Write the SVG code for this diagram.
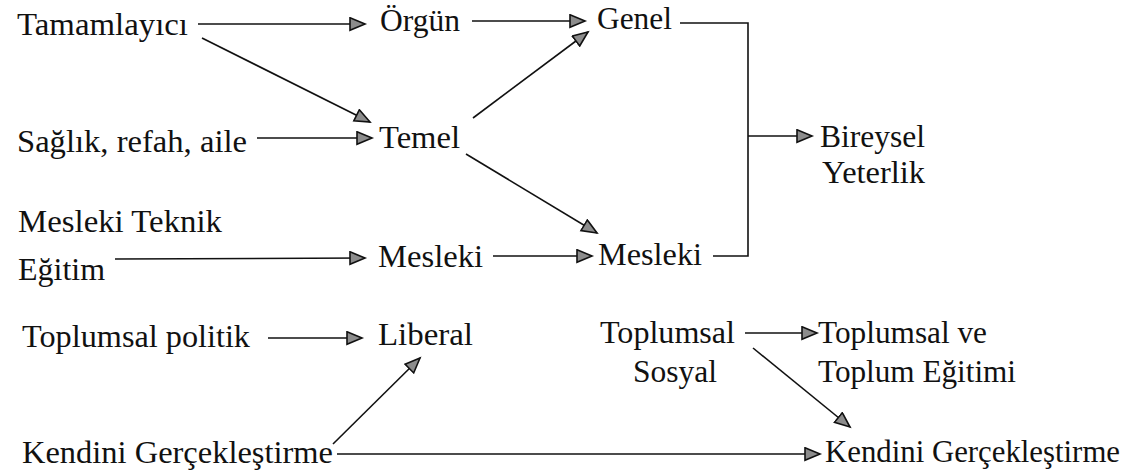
<svg xmlns="http://www.w3.org/2000/svg" width="1144" height="476" viewBox="0 0 1144 476">
<style>
.c line,.c polyline{stroke:#111;stroke-width:1.6;fill:none}
.a{marker-end:url(#ah)}
.t text{font-family:'Liberation Serif','Times New Roman',serif;font-size:31px;fill:#111}
</style>
<defs>
<marker id="ah" markerUnits="userSpaceOnUse" markerWidth="20" markerHeight="16" refX="16" refY="7" orient="auto">
<path d="M1,0.8 L16,7 L1,13.2 z" fill="#8c8c8c" stroke="#111" stroke-width="1.6" stroke-linejoin="miter"/>
</marker>
</defs>
<rect width="1144" height="476" fill="#fff"/>
<g class="c" id="connectors">
<line class="a" x1="198" y1="24" x2="365" y2="24"/>
<line class="a" x1="202" y1="38" x2="370" y2="122"/>
<line class="a" x1="472" y1="21" x2="585" y2="21"/>
<line class="a" x1="473" y1="118" x2="588" y2="32"/>
<line class="a" x1="257" y1="138" x2="372" y2="138"/>
<line class="a" x1="466" y1="154" x2="597" y2="233"/>
<line class="a" x1="115" y1="259" x2="365" y2="258"/>
<line class="a" x1="493" y1="256" x2="592" y2="256"/>
<polyline points="680,23 748,23 748,256 713,256"/>
<line class="a" x1="748" y1="136" x2="812" y2="136"/>
<line class="a" x1="268" y1="338" x2="362" y2="338"/>
<line class="a" x1="333" y1="444" x2="420" y2="358"/>
<line class="a" x1="337" y1="454" x2="820" y2="454"/>
<line class="a" x1="745" y1="333" x2="817" y2="333"/>
<line class="a" x1="753" y1="348" x2="850" y2="427"/>
</g>
<g class="t">
<g id="tamamlayici"><text x="17" y="35" textLength="171" lengthAdjust="spacingAndGlyphs">Tamamlayıcı</text></g>
<g id="orgun"><text x="380" y="31" textLength="80" lengthAdjust="spacingAndGlyphs">Örgün</text></g>
<g id="genel"><text x="597" y="29" textLength="75" lengthAdjust="spacingAndGlyphs">Genel</text></g>
<g id="saglik"><text x="17" y="152" textLength="230" lengthAdjust="spacingAndGlyphs">Sağlık, refah, aile</text></g>
<g id="temel"><text x="379" y="148" textLength="81" lengthAdjust="spacingAndGlyphs">Temel</text></g>
<g id="bireysel"><text x="820" y="147" textLength="105" lengthAdjust="spacingAndGlyphs">Bireysel</text><text x="822" y="183" textLength="103" lengthAdjust="spacingAndGlyphs">Yeterlik</text></g>
<g id="mesleki-teknik"><text x="18" y="232" textLength="204" lengthAdjust="spacingAndGlyphs">Mesleki Teknik</text><text x="18" y="280" textLength="87" lengthAdjust="spacingAndGlyphs">Eğitim</text></g>
<g id="mesleki-1"><text x="378" y="267" textLength="105" lengthAdjust="spacingAndGlyphs">Mesleki</text></g>
<g id="mesleki-2"><text x="598" y="265" textLength="104" lengthAdjust="spacingAndGlyphs">Mesleki</text></g>
<g id="toplumsal-politik"><text x="22" y="347" textLength="228" lengthAdjust="spacingAndGlyphs">Toplumsal politik</text></g>
<g id="liberal"><text x="378" y="345" textLength="95" lengthAdjust="spacingAndGlyphs">Liberal</text></g>
<g id="toplumsal-sosyal"><text x="600" y="343" textLength="135" lengthAdjust="spacingAndGlyphs">Toplumsal</text><text x="633" y="382" textLength="84" lengthAdjust="spacingAndGlyphs">Sosyal</text></g>
<g id="toplum-egitimi"><text x="818" y="343" textLength="169" lengthAdjust="spacingAndGlyphs">Toplumsal ve</text><text x="818" y="382" textLength="198" lengthAdjust="spacingAndGlyphs">Toplum Eğitimi</text></g>
<g id="kendini-1"><text x="22" y="463" textLength="311" lengthAdjust="spacingAndGlyphs">Kendini Gerçekleştirme</text></g>
<g id="kendini-2"><text x="825" y="462" textLength="295" lengthAdjust="spacingAndGlyphs">Kendini Gerçekleştirme</text></g>
</g>
</svg>
